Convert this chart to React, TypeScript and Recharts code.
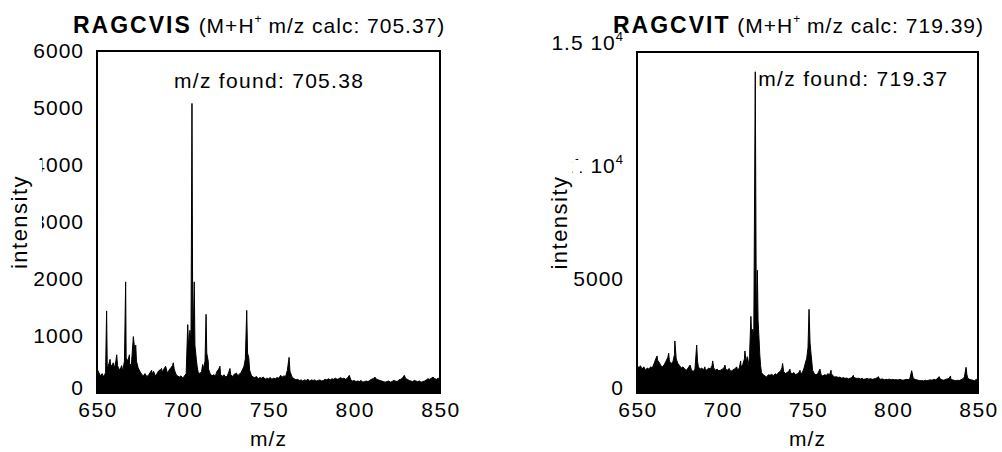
import React from 'react';
import { AreaChart, Area, XAxis, YAxis, ReferenceArea, ReferenceDot, Label } from 'recharts';

const FONT = '"Liberation Sans", Arial, Helvetica, sans-serif';

// ---- titles / annotations ----
const leftTitle = 'RAGCVIS';
const leftCalc = '705.37';
const leftFound = '705.38';
const rightTitle = 'RAGCVIT';
const rightCalc = '719.39';
const rightFound = '719.37';

// ---- axes ----
const xTicks = [650, 700, 750, 800, 850];
const leftYTicks = [0, 1000, 2000, 3000, 4000, 5000, 6000];
const leftYTickLabels = ['0', '1000', '2000', '3000', '4000', '5000', '6000'];
const rightYTicks = [0, 5000, 10000, 15000];
const rightYTickLabels = ['0', '5000', '1 10^4', '1.5 10^4'];

// ---- left spectrum (RAGCVIS) ----
const leftMz = [
  650, 651, 652, 653, 654, 655, 655.6, 656, 657, 657.6,
  658, 659, 659.5, 660, 661, 661.5, 662, 663, 664, 664.4,
  665, 666, 666.7, 667, 668, 668.9, 669, 670, 671, 671.2,
  672, 672.6, 673, 674, 675, 676, 677, 678, 679, 680,
  681, 681.9, 682, 683, 684, 685, 686, 687, 687.7, 688,
  689, 690, 691, 692, 693, 694, 694.5, 695, 696, 697,
  698, 699, 700, 701, 702, 702.9, 703.4, 704.2, 704.8, 705.38,
  705.8, 706.2, 706.7, 707.1, 708, 708.4, 709, 710, 711, 711.6,
  712, 713, 713.6, 714, 714.9, 715, 716, 717, 718, 719,
  720, 721, 721.7, 722, 723, 724, 725, 726, 727, 727.5,
  728, 729, 730, 731, 731.4, 732, 733, 734, 735, 735.7,
  736.5, 737.3, 737.8, 738.5, 739, 740, 741, 742, 743, 744,
  745, 746, 747, 748, 749, 750, 751, 752, 753, 754,
  755, 756, 757.1, 758, 759, 760, 761, 762, 762.5, 763.5,
  764, 765, 766, 767, 768, 769, 770, 771, 772, 773,
  774, 775, 776, 777, 778, 779, 780, 781, 782, 783,
  784, 785, 786, 787, 788, 789, 790, 791, 792, 793,
  794, 795, 796, 797.1, 798, 799, 800, 801, 802, 803,
  804, 805, 806, 807, 808, 809, 810, 811, 812, 813,
  814, 815, 816, 817, 818, 819, 820, 821, 822, 823,
  824, 825, 826, 827, 828, 829.2, 830, 831, 832, 833,
  834, 835, 836, 837, 838, 839, 840, 841, 842, 843,
  844, 845, 846, 847, 848, 849, 850,
];
const leftIntensity = [
  430, 360, 300, 340, 280, 360, 1440, 420, 520, 590,
  470, 500, 530, 420, 560, 670, 480, 400, 450, 480,
  380, 560, 1950, 620, 560, 670, 520, 480, 900, 990,
  760, 840, 560, 440, 380, 330, 300, 340, 290, 310,
  360, 400, 330, 380, 300, 340, 390, 410, 430, 360,
  420, 470, 350, 400, 440, 480, 530, 420, 330, 300,
  280, 300, 260, 300, 340, 1200, 820, 1100, 900, 5080,
  1300, 1200, 1950, 840, 560, 470, 360, 340, 380, 500,
  420, 560, 1380, 700, 550, 420, 340, 300, 320, 300,
  380, 420, 470, 330, 290, 320, 280, 300, 380, 430,
  320, 290, 330, 340, 350, 300, 330, 360, 420, 470,
  600, 1450, 700, 620, 400, 310, 280, 270, 290, 250,
  270, 260, 280, 240, 260, 250, 270, 240, 260, 250,
  270, 260, 310, 280, 300, 290, 400, 625, 380, 300,
  270, 250, 230, 240, 220, 230, 210, 230, 220, 240,
  210, 230, 220, 230, 210, 220, 230, 210, 220, 240,
  230, 250, 230, 250, 240, 260, 240, 250, 270, 250,
  260, 240, 260, 310, 230, 210, 220, 200, 210, 200,
  220, 190, 200, 210, 200, 220, 240, 250, 280, 240,
  230, 220, 210, 200, 190, 200, 210, 190, 200, 220,
  210, 200, 230, 240, 260, 310, 250, 240, 220, 210,
  200, 220, 210, 200, 210, 190, 200, 210, 230, 250,
  240, 260, 280, 250, 240, 260, 240,
];

// ---- right spectrum (RAGCVIT) ----
const rightMz = [
  650, 651, 652, 653, 654, 655, 656, 657, 658, 659,
  660, 661, 661.8, 662, 663, 664, 665, 666, 667, 668,
  668.6, 669, 670, 671, 672, 672.2, 673, 674, 675, 676,
  677, 678, 679, 680, 681.1, 682, 683, 684, 685, 685.5,
  686, 687, 688, 689, 689.8, 690, 691, 692, 693, 694,
  694.4, 695, 696, 697, 698, 699, 700, 701, 701.6, 702,
  703, 704, 705, 706, 707, 708, 708.5, 709, 710, 710.8,
  711, 712, 713, 713.3, 714, 714.7, 715, 716, 716.8, 717.3,
  717.8, 718.5, 719.37, 720, 720.6, 721, 721.6, 722, 722.5, 723,
  724, 725, 726, 727, 728, 729, 730, 731, 732, 733,
  734, 735, 735.4, 736, 737, 738, 739, 739.7, 740, 741,
  742, 743, 744, 745, 745.6, 746, 747, 748, 749, 749.5,
  750.3, 750.9, 751.5, 752.1, 753, 754, 755, 756, 757.3, 758,
  759, 760, 761, 762, 763, 763.8, 764, 765, 766, 767,
  768, 769, 770, 771, 772, 773, 774, 775, 776, 776.9,
  777, 778, 779, 780, 781, 782, 783, 784, 785, 786,
  787, 788, 789, 790, 791, 791.6, 792, 793, 794, 795,
  796, 797, 798, 799, 800, 801, 802, 803, 804, 805,
  806, 807, 808, 809, 810, 811.1, 812, 813, 814, 815,
  816, 817, 818, 819, 820, 821, 822, 823, 824, 825,
  826, 827.2, 828, 829, 830, 831, 832, 833, 833.9, 834,
  835, 836, 837, 838, 839, 840, 841, 842, 843, 843.5,
  844, 845, 846, 847, 848, 849, 850,
];
const rightIntensity = [
  1230, 1100, 1200, 1050, 1150, 1000, 1100, 1050, 1150, 1100,
  1300, 1500, 1630, 1450, 1350, 1200, 1150, 1250, 1400, 1550,
  1750, 1400, 1300, 1350, 1700, 2290, 1500, 1300, 1200, 1100,
  1150, 1050, 1000, 1100, 1230, 1000, 950, 1050, 2110, 1400,
  1150, 1050, 1100, 1000, 1150, 1050, 1000, 1100, 1050, 1200,
  1410, 1100, 1000, 1050, 980, 1000, 1050, 1100, 1230, 1050,
  1000, 1080, 950, 1000, 1050, 1100, 1150, 1000, 1100, 1410,
  1150, 1250, 1500, 1850, 1350, 1600, 1150, 1600, 3370, 2400,
  2800, 2600, 14130, 3000, 5400, 3200, 2360, 1700, 1200, 900,
  800, 750, 700, 800, 780, 820, 760, 850, 800, 900,
  950, 1100, 1300, 950, 850, 900, 950, 1050, 900, 850,
  900, 800, 850, 900, 1000, 850, 900, 1100, 1400, 1500,
  2000, 3680, 2200, 1700, 1000, 850, 800, 850, 1050, 800,
  750, 800, 780, 850, 800, 1000, 850, 750, 700, 720,
  680, 700, 650, 680, 640, 660, 620, 650, 680, 780,
  700, 660, 640, 650, 620, 640, 600, 620, 640, 610,
  630, 600, 620, 640, 680, 720, 640, 600, 620, 580,
  600, 590, 610, 580, 600, 580, 590, 570, 600, 580,
  560, 580, 600, 590, 620, 980, 650, 600, 580, 560,
  540, 550, 530, 560, 540, 560, 580, 560, 600, 580,
  620, 720, 600, 580, 560, 600, 620, 640, 750, 620,
  580, 560, 540, 560, 550, 580, 620, 700, 1130, 800,
  650, 600, 580, 560, 540, 600, 550,
];

const zip = (mz: number[], v: number[]) => mz.map((m, i) => ({ mz: m, v: v[i] }));
const leftData = zip(leftMz, leftIntensity);
const rightData = zip(rightMz, rightIntensity);

const makeYTick = (ticks: number[], labels: string[], topShift: number) => (props: any) => {
  const { x, y, payload } = props;
  const i = ticks.indexOf(payload.value);
  const raw = i >= 0 ? labels[i] : String(payload.value);
  const [base, exp] = raw.split('^');
  let dy = 7;
  if (payload.value === 0) dy = 2;
  if (i === ticks.length - 1) dy += topShift;
  return (
    <text x={x - 13} y={y + dy} textAnchor="end" fontFamily={FONT} fontSize={21} letterSpacing={1} fill="#000">
      {base}
      {exp ? <tspan dy={-9} fontSize={13}>{exp}</tspan> : null}
    </text>
  );
};

const XTick = (props: any) => {
  const { x, y, payload } = props;
  return (
    <text x={x + 1} y={y + 24} textAnchor="middle" fontFamily={FONT} fontSize={21} letterSpacing={1.5} fill="#000">
      {payload.value}
    </text>
  );
};

const IntensityLabel = (props: any) => {
  const { x, y, height } = props.viewBox;
  const cx = x - 17;
  const cy = y + height / 2;
  return (
    <text x={cx} y={cy} dy={7} textAnchor="middle" transform={`rotate(-90 ${cx} ${cy})`}
      fontFamily={FONT} fontSize={22} letterSpacing={1.5} fill="#000">intensity</text>
  );
};

const MzLabel = (props: any) => {
  const { x, y, width } = props.viewBox;
  return (
    <text x={x + width / 2} y={y + 53} textAnchor="middle" fontFamily={FONT} fontSize={21} letterSpacing={1} fill="#000">m/z</text>
  );
};

type SpecProps = {
  data: { mz: number; v: number }[];
  width: number;
  left: number;
  margin: { top: number; right: number; bottom: number; left: number };
  yMax: number;
  yTicks: number[];
  yTick: (p: any) => any;
  peakMz: number;
  peakV: number;
  found: string;
  foundDx: number;
  foundDy: number;
};

const Spectrum = (p: SpecProps) => (
  <div style={{ position: 'absolute', left: p.left, top: 0 }}>
    <AreaChart width={p.width} height={452} data={p.data} margin={p.margin}>
      <XAxis type="number" dataKey="mz" domain={[650, 850]} ticks={xTicks} interval={0} allowDataOverflow
        tick={XTick} tickLine={false} tickSize={0} tickMargin={0} height={45}
        axisLine={{ stroke: '#000', strokeWidth: 2 }}>
        <Label value="m/z" content={MzLabel} />
      </XAxis>
      <YAxis type="number" domain={[0, p.yMax]} ticks={p.yTicks} interval={0} allowDataOverflow
        tick={p.yTick} tickLine={false} tickSize={0} tickMargin={0} width={60}
        axisLine={{ stroke: '#000', strokeWidth: 2 }}>
        <Label value="intensity" content={IntensityLabel} />
      </YAxis>
      <Area type="linear" dataKey="v" stroke="#000" strokeWidth={1} fill="#000" fillOpacity={1}
        isAnimationActive={false} dot={false} activeDot={false} />
      <ReferenceArea x1={650} x2={850} y1={0} y2={p.yMax} fill="none" fillOpacity={0}
        stroke="#000" strokeWidth={2} ifOverflow="visible" />
      <ReferenceDot x={p.peakMz} y={p.peakV} r={0} ifOverflow="visible"
        shape={(s: any) => (
          <text x={s.cx + p.foundDx} y={s.cy + p.foundDy} fontFamily={FONT} fontSize={21}
            letterSpacing={1.3} fill="#000">{`m/z found: ${p.found}`}</text>
        )} />
    </AreaChart>
  </div>
);

const Title = ({ x, name, calc }: { x: number; name: string; calc: string }) => (
  <text x={x} y={33} fontFamily={FONT} fill="#000">
    <tspan fontWeight="bold" fontSize={23} letterSpacing={2}>{name}</tspan>
    <tspan fontSize={21} letterSpacing={1}>{' (M+H'}</tspan>
    <tspan fontSize={12} dy={-10}>+</tspan>
    <tspan fontSize={21} letterSpacing={1} dy={10}>{` m/z calc: ${calc})`}</tspan>
  </text>
);

export default function App() {
  return (
    <div style={{ position: 'absolute', left: 0, top: 0, width: 1002, height: 452, background: '#fff', overflow: 'hidden' }}>
      <Spectrum data={leftData} width={500} left={0}
        margin={{ top: 51, right: 60, bottom: 14, left: 37 }}
        yMax={6000} yTicks={leftYTicks} yTick={makeYTick(leftYTicks, leftYTickLabels, 0)}
        peakMz={705.38} peakV={5080} found={leftFound} foundDx={-18} foundDy={-15} />
      <Spectrum data={rightData} width={502} left={500}
        margin={{ top: 52, right: 24, bottom: 14, left: 77 }}
        yMax={15000} yTicks={rightYTicks} yTick={makeYTick(rightYTicks, rightYTickLabels, -9)}
        peakMz={719.37} peakV={14130} found={rightFound} foundDx={3} foundDy={14} />
      <svg width={1002} height={452} style={{ position: 'absolute', left: 0, top: 0, pointerEvents: 'none' }}>
        <rect x={33} y={160} width={9} height={110} fill="#fff" />
        <rect x={573} y={160} width={7} height={110} fill="#fff" />
        <Title x={73} name={leftTitle} calc={leftCalc} />
        <Title x={613} name={rightTitle} calc={rightCalc} />
      </svg>
    </div>
  );
}
